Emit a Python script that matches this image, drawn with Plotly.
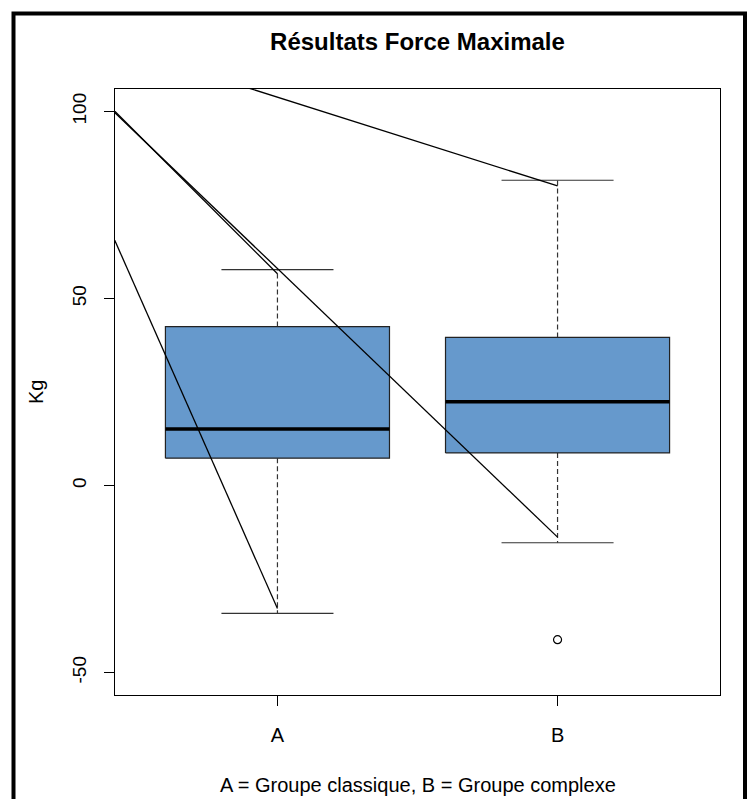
import plotly.graph_objects as go

# ---------------- data ----------------
groups = ["A", "B"]
positions = [1, 2]
q1 = [7.3, 8.7]
median = [15.1, 22.4]
q3 = [42.5, 39.6]
whisk_low = [-34.2, -15.3]
whisk_high = [57.7, 81.6]
outlier_pos = [2]
outlier_val = [-41.2]

# overlaid straight lines (start x/value -> end x/value)
seg_x0 = [0, 0, 0, 0]
seg_y0 = [127.5, 131.4, 129.8, 136.6]
seg_x1 = [2, 1, 2, 1]
seg_y1 = [80.1, 56.6, -13.8, -32.9]

y_ticks = [-50, 0, 50, 100]
y_tick_text = ["-50", "0", "50", "100"]
title_text = "<b>Résultats Force Maximale</b>"
ylab = "Kg"
sub_text = "A = Groupe classique, B = Groupe complexe"

box_width = 0.8
cap_width = 0.4
fill_col = "#6699CC"
font_family = "Liberation Sans, Arial, sans-serif"

fig = go.Figure()

for p, a, m, b, lo, hi in zip(positions, q1, median, q3, whisk_low, whisk_high):
    h = box_width / 2
    c = cap_width / 2
    # whiskers (dashed)
    fig.add_trace(go.Scatter(x=[p, p, None, p, p], y=[b, hi, None, a, lo], mode="lines",
                             line=dict(color="#333333", width=1.2, dash="5px,3px"),
                             showlegend=False, hoverinfo="skip"))
    # caps
    fig.add_trace(go.Scatter(x=[p - c, p + c, None, p - c, p + c], y=[hi, hi, None, lo, lo],
                             mode="lines", line=dict(color="#333333", width=1.2),
                             showlegend=False, hoverinfo="skip"))
    # box body
    fig.add_trace(go.Scatter(x=[p - h, p + h, p + h, p - h, p - h], y=[a, a, b, b, a],
                             mode="lines", fill="toself", fillcolor=fill_col,
                             line=dict(color="#222222", width=1.2),
                             showlegend=False, hoverinfo="skip"))
    # median
    fig.add_trace(go.Scatter(x=[p - h, p + h], y=[m, m], mode="lines",
                             line=dict(color="black", width=3.5),
                             showlegend=False, hoverinfo="skip"))

# outlier
fig.add_trace(go.Scatter(x=outlier_pos, y=outlier_val, mode="markers",
                         marker=dict(symbol="circle-open", size=8, color="black",
                                     line=dict(width=1.2)),
                         showlegend=False, hoverinfo="skip"))

# overlaid lines
for x0, y0, x1, y1 in zip(seg_x0, seg_y0, seg_x1, seg_y1):
    fig.add_trace(go.Scatter(x=[x0, x1], y=[y0, y1], mode="lines",
                             line=dict(color="black", width=1.3),
                             showlegend=False, hoverinfo="skip"))

fig.update_layout(
    width=747, height=799, autosize=False,
    margin=dict(l=115, r=27, t=89, b=104),
    paper_bgcolor="white", plot_bgcolor="white",
    font=dict(family=font_family, size=19, color="black"),
    title=dict(text=title_text, x=(115 + 720) / 2 / 747, xanchor="center",
               y=1 - 42 / 799, yanchor="middle",
               font=dict(family=font_family, size=24, color="black")),
    showlegend=False,
)

fig.update_xaxes(range=[0.42, 2.58], tickvals=positions, ticktext=groups,
                 showgrid=False, zeroline=False, showline=True, mirror=True,
                 linecolor="black", linewidth=1, ticks="outside", ticklen=10,
                 tickcolor="black", tickwidth=1, ticklabelstandoff=12,
                 tickfont=dict(size=20))
fig.update_yaxes(range=[-56.0, 106.0], tickvals=y_ticks, ticktext=y_tick_text,
                 showgrid=False, zeroline=False, showline=True, mirror=True,
                 linecolor="black", linewidth=1, ticks="outside", ticklen=10,
                 tickcolor="black", tickwidth=1, tickangle=-90, ticklabelstandoff=10,
                 tickfont=dict(size=19))

fig.add_annotation(text=ylab, xref="paper", yref="paper",
                   x=(36 - 115) / 605, y=0.5, xanchor="center", yanchor="middle",
                   textangle=-90, showarrow=False, font=dict(size=20))
fig.add_annotation(text=sub_text, xref="paper", yref="paper",
                   x=0.5, y=(695 - 785) / 606, xanchor="center", yanchor="middle",
                   showarrow=False, font=dict(size=20))

# outer frame
fig.add_shape(type="rect", xref="paper", yref="paper",
              x0=(13.5 - 115) / 605, x1=(745 - 115) / 605,
              y0=(695 - 803) / 606, y1=(695 - 13.5) / 606,
              line=dict(color="black", width=4), fillcolor="rgba(0,0,0,0)", layer="above")

fig.write_html("out.html")
